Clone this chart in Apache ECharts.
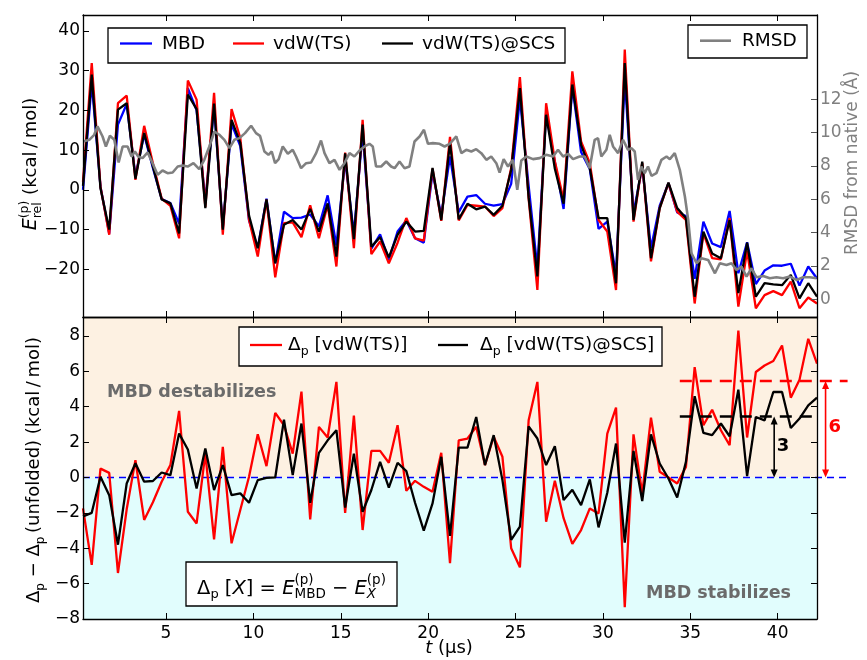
<!DOCTYPE html>
<html>
<head>
<meta charset="utf-8">
<script src="https://cdn.jsdelivr.net/npm/echarts@6/dist/echarts.min.js"></script>
<style>
  html, body { margin: 0; padding: 0; background: #fff; }
  #chart { width: 867px; height: 660px; }
</style>
</head>
<body>
<div id="chart"></div>
<script>
// ---- simulation snapshots: one every 0.5 µs ----
const time = Array.from({ length: 85 }, (_, i) => 0.25 + 0.5 * i);

// relative energies E_rel^(p) (kcal/mol)
const eMBD = [
  0, 27, 0.8, -11, 16.4, 21.6, 3.5, 13.9, 5.5, -2.3,
  -3.3, -8.5, 25.6, 20, -3, 21, -9.5, 16.6, 11, -7.7,
  -14.6, -2.2, -18.5, -5.5, -7.1, -7, -6.2, -9.2, -1.4, -14,
  7.5, -11.1, 14.6, -14.8, -11.2, -17.6, -10.5, -7.7, -12.2, -13.3,
  4.3, -6.4, 8.4, -5.6, -1.7, -1.3, -3.5, -4, -3.6, 1.5,
  23, 1, -19.7, 19.4, 7, -4.8, 26, 9.5, 5.2, -9.8,
  -8, -21.4, 28.1, -5.8, 5.8, -14.7, -4, 1.7, -5.7, -6.6,
  -22.4, -8, -13.5, -14.4, -5.3, -21, -13.2, -23.7, -20.3, -19,
  -19.1, -18.6, -24.1, -19.3, -22.3
];
const eTS = [
  2, 31.9, 0.8, -11.3, 21.8, 23.7, 2.5, 16.1, 6.7, -2.2,
  -4, -12.2, 27.5, 22.7, -4.3, 24.4, -11.3, 20.3, 13, -7.5,
  -16.8, -2.5, -22, -8.4, -8.2, -11.9, -3.9, -12.2, -3.8, -19.3,
  9.4, -14.7, 17.6, -16.2, -13, -18.5, -13.3, -7.1, -12.2, -12.8,
  5.3, -7.8, 13.3, -7.7, -3.8, -4, -4.2, -6.6, -4.6, 5.5,
  28.4, -2.2, -25.2, 21.8, 7.2, -2.5, 29.8, 12.2, 6.7, -7.6,
  -10.5, -25.2, 35.3, -8, 6.7, -18, -4.6, 1.7, -5.5, -7.6,
  -28.6, -10.9, -17.2, -17.5, -7.1, -29.4, -15.4, -29.8, -26.5, -25.5,
  -26.5, -23.1, -29.8, -27.1, -28.6
];
const eSCS = [
  1, 29, 0.4, -10, 20.2, 21.8, 2.8, 14.3, 5.9, -2.4,
  -3.4, -11, 24, 20.3, -4.6, 21.7, -10, 17.6, 11.8, -6.5,
  -14.7, -2.4, -18.5, -8.8, -7.6, -10, -4.8, -10.5, -3.4, -16.8,
  9.2, -12.4, 16.4, -14.3, -11.9, -17, -11.3, -8, -10.5, -10.3,
  5.5, -7.6, 11.8, -7.4, -3.5, -4.9, -4.2, -6.3, -4, 5,
  25.6, -1.9, -21.8, 18.9, 5.3, -3.5, 26.5, 11.3, 5.5, -7.1,
  -7.1, -23.5, 31.9, -7.6, 7.1, -17.2, -4.6, 1.8, -4.6, -7.1,
  -26.9, -10.5, -16, -17.2, -7.6, -26, -13.3, -26.9, -23.5, -23.8,
  -24, -21.4, -27.3, -23.5, -26.9
];

// RMSD from the native structure (Å), sampled more finely
const rmsdTime = [
  0.26, 0.61, 0.89, 1.08, 1.37, 1.56, 1.79, 2.04, 2.29, 2.52, 2.8, 3.03, 3.22, 3.41, 3.66, 3.95,
  4.23, 4.52, 4.8, 5.09, 5.38, 5.67, 5.95, 6.24, 6.57, 6.9, 7.19, 7.48, 7.77, 8.05, 8.34, 8.63,
  8.91, 9.2, 9.52, 9.87, 10.15, 10.38, 10.63, 10.86, 11.05, 11.24, 11.45, 11.68, 11.97, 12.25,
  12.44, 12.73, 13.02, 13.3, 13.59, 13.87, 14.07, 14.35, 14.64, 14.93, 15.21, 15.5, 15.78, 16.07,
  16.36, 16.64, 16.83, 17.02, 17.31, 17.6, 17.88, 18.08, 18.36, 18.65, 18.93, 19.22, 19.51, 19.76,
  19.99, 20.27, 20.65, 20.94, 21.23, 21.61, 21.9, 22.18, 22.47, 22.75, 23.04, 23.33, 23.61, 23.9,
  24.09, 24.32, 24.57, 24.85, 25.1, 25.33, 25.62, 26.0, 26.38, 26.76, 27.15, 27.43, 27.72, 28.01,
  28.29, 28.67, 28.96, 29.24, 29.53, 29.72, 29.91, 30.2, 30.39, 30.58, 30.87, 31.15, 31.44, 31.63,
  31.82, 32.01, 32.2, 32.39, 32.58, 32.78, 33.06, 33.35, 33.64, 33.83, 34.11, 34.4, 34.69, 34.88,
  35.07, 35.36, 35.64, 36.02, 36.41, 36.69, 37.07, 37.36, 37.64, 37.93, 38.22, 38.5, 38.79, 39.17,
  39.55, 39.93, 40.31, 40.7, 41.08, 41.46, 41.84, 42.22
];
const rmsdVal = [
  9.46, 9.56, 9.86, 10.36, 9.76, 9.16, 9.8, 9.56, 8.2, 9.16, 9.16, 8.56, 8.86, 8.56, 8.46, 8.8,
  8.16, 7.46, 7.72, 7.56, 7.6, 7.96, 8.02, 7.96, 8.16, 7.8, 8.36, 9.16, 10.06, 9.86, 9.56, 9.06,
  9.56, 9.66, 9.96, 10.4, 9.96, 9.8, 8.86, 8.66, 8.86, 8.16, 8.4, 9.16, 8.72, 8.96,
  8.56, 7.86, 8.16, 8.2, 8.76, 9.52, 8.76, 8.16, 8.36, 7.76, 8.16, 8.76, 8.56, 8.92,
  9.16, 9.32, 9.16, 7.96, 7.96, 8.26, 7.96, 7.86, 8.26, 7.86, 7.96, 9.46, 9.76, 10.16,
  9.32, 9.36, 9.32, 9.16, 9.32, 9.76, 8.76, 8.96, 8.86, 9.0, 8.76, 8.36, 8.56, 8.16,
  7.6, 8.4, 7.96, 8.36, 6.56, 8.32, 8.56, 8.4, 8.46, 8.66, 8.56, 8.96, 8.56, 8.72,
  8.4, 8.56, 8.56, 7.86, 9.56, 9.66, 8.56, 8.96, 9.86, 9.16, 8.76, 9.56, 8.96, 9.06,
  8.86, 7.16, 7.96, 7.56, 7.96, 7.4, 7.56, 8.36, 8.56, 8.4, 8.76, 7.76, 6.16, 4.76,
  2.76, 2.16, 2.46, 2.36, 1.56, 2.16, 2.06, 2.16, 1.76, 1.96, 1.36, 1.86, 1.32, 1.4,
  1.26, 1.32, 1.26, 1.36, 1.16, 1.32, 1.32, 1.26
];

// Δp − Δp(unfolded) (kcal/mol)
const dTS = [
  -1.75, -4.94, 0.5, 0.26, -5.4, -1.8, 0.98, -2.4, -1.4, -0.24,
  0.7, 3.76, -1.94, -2.6, 1.35, -3.5, 1.73, -3.72, -1.84, 0.04,
  2.44, 0.64, 3.65, 2.95, 1.35, 4.85, -2.37, 2.86, 2.26, 5.4,
  -2.0, 3.5, -2.97, 1.5, 1.5, 0.83, 2.95, -0.75, -0.19, -0.53,
  -0.81, 1.39, -4.85, 2.1, 2.2, 2.86, 0.7, 2.3, 1.17, -4.0,
  -5.08, 3.23, 5.4, -2.5, -0.19, -2.3, -3.75, -2.97, -1.75, -2.03,
  2.48, 3.95, -7.33, 2.44, -0.9, 3.38, 0.32, 0, -0.34, 0.6,
  6.24, 2.95, 3.83, 2.67, 1.82, 8.3, 2.26, 5.96, 6.33, 6.58,
  7.46, 4.51, 5.53, 7.84, 6.43
];
const dSCS = [
  -2.2, -2.0, 0.04, -1.0, -3.8, -0.34, 0.8, -0.24, -0.2, 0.28,
  0.13, 2.48, 1.58, -0.62, 1.64, -0.71, 0.7, -1.0, -0.9, -1.43,
  -0.15, -0.02, 0, 3.27, 0.13, 3.05, -1.43, 1.39, 2.1, 2.67,
  -1.7, 1.35, -1.94, -0.71, 0.88, -0.58, 0.83, 0.36, -1.43, -3.0,
  -1.47, 1.17, -3.3, 1.69, 1.69, 3.42, 0.7, 2.39, -0.15, -3.53,
  -2.78, 2.89, 2.2, 0.7, 1.77, -1.28, -0.7, -1.56, -0.11, -2.82,
  -0.86, 1.92, -3.68, 1.5, -1.33, 2.44, 0.79, -0.06, -1.13, 0.88,
  4.59, 2.52, 2.39, 3.05, 2.33, 4.96, 0.08, 3.42, 3.23, 4.83,
  4.83, 2.8, 3.33, 4.08, 4.51
];

// tick labels
const tTicks = [5, 10, 15, 20, 25, 30, 35, 40];
const eTicks = [-20, -10, 0, 10, 20, 30, 40];
const rmsdTicks = [0, 2, 4, 6, 8, 10, 12];
const dTicks = [-8, -6, -4, -2, 0, 2, 4, 6, 8];

// plateau levels reached after the protein unfolds (t > 35 µs)
const plateauTS = 5.45;
const plateauSCS = 3.45;

// ---- axis ranges ----
const T_MIN = 0.25, T_MAX = 42.25, T_OVERHANG = 44.0, T_PLATEAU = 34.4;
const E_MIN = -32, E_MAX = 44;
const R_MIN = -1.06, R_MAX = 17.04;
const D_MIN = -8, D_MAX = 9.07;

const FONT = 'DejaVu Sans';
const PEACH = '#fdf1e2';
const AQUA = '#e1fdfd';
const GRAY = '#808080';
const LABEL_GRAY = '#6b6b6b';
const LINE_W = 2.3;

const pairs = (xs, ys) => xs.map((x, i) => [x, ys[i]]);
const minus = v => String(v).replace('-', '\u2212');

// ---- text layout helpers (sub/superscripts laid out along a baseline) ----
const measureCtx = document.createElement('canvas').getContext('2d');
function textWidth(p) {
  measureCtx.font = `${p.it ? 'italic ' : ''}${p.b ? 'bold ' : ''}${p.s}px "${FONT}"`;
  return measureCtx.measureText(p.t).width;
}
function mathText(pieces, opt) {
  const kids = [];
  let cursor = 0;
  const put = (p, x) => {
    kids.push({
      type: 'text', x: x, y: (p.dy || 0) - 0.3 * p.s, z: 100, silent: true,
      style: {
        text: p.t, fontSize: p.s, fontFamily: FONT,
        fontStyle: p.it ? 'italic' : 'normal', fontWeight: p.b ? 'bold' : 'normal',
        fill: p.c || opt.color || '#000', align: 'left', verticalAlign: 'middle'
      }
    });
    return textWidth(p);
  };
  pieces.forEach(p => {
    if (p.stack) {
      let w = 0;
      p.stack.forEach(q => { w = Math.max(w, put(q, cursor)); });
      cursor += w;
    } else {
      cursor += put(p, cursor);
    }
  });
  if (opt.anchor === 'center') kids.forEach(k => { k.x -= cursor / 2; });
  return { type: 'group', x: opt.x, y: opt.y, rotation: opt.rotation || 0, z: 100, children: kids };
}
function box(x, y, w, h) {
  return { type: 'rect', z: 99, silent: true, shape: { x, y, width: w, height: h },
           style: { fill: '#fff', stroke: '#000', lineWidth: 1.3 } };
}
function swatch(x1, x2, y, color, width) {
  return { type: 'line', z: 100, silent: true, shape: { x1, y1: y, x2, y2: y },
           style: { stroke: color, lineWidth: width || LINE_W } };
}
function plainText(x, y, text, size, extra) {
  return { type: 'text', x, y, z: 100, silent: true,
           style: Object.assign({ text, fontSize: size, fontFamily: FONT, fill: '#000',
                                  align: 'left', verticalAlign: 'middle' }, extra || {}) };
}

// ---- axes ----
function xAxisDef(grid, pos, showLabels) {
  return {
    type: 'value', gridIndex: grid, position: pos, min: T_MIN, max: T_MAX, z: 10,
    axisLine: { show: true, onZero: false, lineStyle: { color: '#000', width: 1.3 } },
    axisTick: { show: true, inside: true, length: 6, customValues: tTicks, lineStyle: { color: '#000', width: 1 } },
    axisLabel: { show: showLabels, customValues: tTicks, fontSize: 17, fontFamily: FONT, color: '#000', margin: 6 },
    splitLine: { show: false }
  };
}
function yAxisDef(grid, pos, min, max, ticks, showLabels, labelColor, tickColor) {
  return {
    type: 'value', gridIndex: grid, position: pos, min, max, z: 10,
    axisLine: { show: true, onZero: false, lineStyle: { color: '#000', width: 1.3 } },
    axisTick: { show: true, inside: true, length: 6, customValues: ticks, lineStyle: { color: tickColor || '#000', width: 1 } },
    axisLabel: { show: showLabels, customValues: ticks, fontSize: 17, fontFamily: FONT,
                 color: labelColor || '#000', margin: 3, formatter: minus },
    splitLine: { show: false }
  };
}

// ---- double-headed vertical arrow ----
function arrowEls(p1, p2, color) {
  const hl = 8, hw = 3.5;
  const dir = Math.sign(p2[1] - p1[1]);
  return [
    { type: 'line', shape: { x1: p1[0], y1: p1[1] + dir * hl * 0.5, x2: p2[0], y2: p2[1] - dir * hl * 0.5 },
      style: { stroke: color, lineWidth: 1.6 } },
    { type: 'polygon', shape: { points: [[p1[0], p1[1]], [p1[0] - hw, p1[1] + dir * hl], [p1[0] + hw, p1[1] + dir * hl]] },
      style: { fill: color } },
    { type: 'polygon', shape: { points: [[p2[0], p2[1]], [p2[0] - hw, p2[1] - dir * hl], [p2[0] + hw, p2[1] - dir * hl]] },
      style: { fill: color } }
  ];
}

const chart = echarts.init(document.getElementById('chart'), null, { renderer: 'canvas' });

const option = {
  animation: false,
  backgroundColor: '#fff',
  textStyle: { fontFamily: FONT },
  grid: [
    { left: 83, top: 15, width: 734, height: 302, containLabel: false, outerBoundsMode: 'none' },
    { left: 83, top: 317, width: 734, height: 302, containLabel: false, outerBoundsMode: 'none' }
  ],
  xAxis: [
    xAxisDef(0, 'bottom', false),
    xAxisDef(0, 'top', false),
    xAxisDef(1, 'bottom', true),
    xAxisDef(1, 'top', false)
  ],
  yAxis: [
    yAxisDef(0, 'left', E_MIN, E_MAX, eTicks, true),
    yAxisDef(0, 'right', R_MIN, R_MAX, rmsdTicks, true, GRAY, '#555'),
    yAxisDef(1, 'left', D_MIN, D_MAX, dTicks, true),
    yAxisDef(1, 'right', D_MIN, D_MAX, dTicks, false)
  ],
  series: [
    { name: 'MBD', type: 'line', xAxisIndex: 0, yAxisIndex: 0, data: pairs(time, eMBD),
      symbol: 'none', z: 2, lineStyle: { color: '#0000ff', width: LINE_W }, itemStyle: { color: '#0000ff' } },
    { name: 'vdW(TS)', type: 'line', xAxisIndex: 0, yAxisIndex: 0, data: pairs(time, eTS),
      symbol: 'none', z: 2, lineStyle: { color: '#ff0000', width: LINE_W }, itemStyle: { color: '#ff0000' } },
    { name: 'vdW(TS)@SCS', type: 'line', xAxisIndex: 0, yAxisIndex: 0, data: pairs(time, eSCS),
      symbol: 'none', z: 2, lineStyle: { color: '#000', width: LINE_W }, itemStyle: { color: '#000' } },
    { name: 'RMSD', type: 'line', xAxisIndex: 0, yAxisIndex: 1, data: pairs(rmsdTime, rmsdVal),
      symbol: 'none', z: 2, lineStyle: { color: GRAY, width: 2.6 }, itemStyle: { color: GRAY } },

    // shaded halves of the lower panel and the zero reference line
    { type: 'custom', xAxisIndex: 2, yAxisIndex: 2, z: 1, silent: true, clip: false,
      data: [[T_MIN, 0]],
      renderItem: (params, api) => {
        const cs = params.coordSys;
        const y0 = api.coord([T_MIN, 0])[1];
        const xEnd = api.coord([T_OVERHANG, 0])[0];
        return { type: 'group', children: [
          { type: 'rect', shape: { x: cs.x, y: cs.y, width: cs.width, height: y0 - cs.y }, style: { fill: PEACH } },
          { type: 'rect', shape: { x: cs.x, y: y0, width: cs.width, height: cs.y + cs.height - y0 }, style: { fill: AQUA } },
          { type: 'line', shape: { x1: cs.x, y1: y0, x2: xEnd, y2: y0 },
            style: { stroke: '#0000ff', lineWidth: 1.5, lineDash: [7, 5] } }
        ] };
      } },

    { name: 'dTS', type: 'line', xAxisIndex: 2, yAxisIndex: 2, data: pairs(time, dTS),
      symbol: 'none', z: 2, lineStyle: { color: '#ff0000', width: LINE_W } },
    { name: 'dSCS', type: 'line', xAxisIndex: 2, yAxisIndex: 2, data: pairs(time, dSCS),
      symbol: 'none', z: 2, lineStyle: { color: '#000', width: LINE_W } },

    // plateau levels with their size markers
    { type: 'custom', xAxisIndex: 2, yAxisIndex: 2, z: 3, silent: true, clip: false,
      data: [[T_PLATEAU, 0]],
      renderItem: (params, api) => {
        const redA = api.coord([T_PLATEAU, plateauTS]);
        const redB = api.coord([T_OVERHANG, plateauTS]);
        const blkA = api.coord([T_PLATEAU, plateauSCS]);
        const blkB = api.coord([T_MAX, plateauSCS]);
        const arrowBlackX = 39.8, arrowRedX = 42.74;
        const labelBlack = api.coord([40.3, 1.77]);
        const labelRed = api.coord([43.27, 2.84]);
        return { type: 'group', children: [
          { type: 'line', shape: { x1: redA[0], y1: redA[1], x2: redB[0], y2: redB[1] },
            style: { stroke: '#ff0000', lineWidth: 2.5, lineDash: [12, 8] } },
          { type: 'line', shape: { x1: blkA[0], y1: blkA[1], x2: blkB[0], y2: blkB[1] },
            style: { stroke: '#000', lineWidth: 2.5, lineDash: [12, 8] } },
          ...arrowEls(api.coord([arrowBlackX, plateauSCS]), api.coord([arrowBlackX, 0]), '#000'),
          ...arrowEls(api.coord([arrowRedX, plateauTS]), api.coord([arrowRedX, 0]), '#ff0000'),
          { type: 'text', x: labelBlack[0], y: labelBlack[1],
            style: { text: '3', fontSize: 18, fontWeight: 'bold', fontFamily: FONT, fill: '#000', align: 'center', verticalAlign: 'middle' } },
          { type: 'text', x: labelRed[0], y: labelRed[1],
            style: { text: '6', fontSize: 18, fontWeight: 'bold', fontFamily: FONT, fill: '#ff0000', align: 'center', verticalAlign: 'middle' } }
        ] };
      } }
  ],
  graphic: [
    // upper legend
    box(108, 28, 457, 35),
    swatch(120, 152, 43.5, '#0000ff'), plainText(162, 44.5, 'MBD', 18.5),
    swatch(233, 264, 43.5, '#ff0000'), plainText(273, 44.5, 'vdW(TS)', 18.5),
    swatch(382, 413, 43.5, '#000'), plainText(422, 44.5, 'vdW(TS)@SCS', 18.5),
    // RMSD legend
    box(688, 25, 119, 33),
    swatch(700, 731, 40.7, GRAY, 2.6), plainText(742, 41.5, 'RMSD', 18.5),
    // lower legend
    box(239, 327, 423, 39),
    swatch(250, 282, 345, '#ff0000'),
    mathText([{ t: '\u0394', s: 18.5 }, { t: 'p', s: 12.5, dy: 4 }, { t: ' [vdW(TS)]', s: 18.5 }], { x: 288, y: 351 }),
    swatch(438, 468, 345, '#000'),
    mathText([{ t: '\u0394', s: 18.5 }, { t: 'p', s: 12.5, dy: 4 }, { t: ' [vdW(TS)@SCS]', s: 18.5 }], { x: 480, y: 351 }),
    // definition box
    box(186, 562, 211, 44),
    mathText([
      { t: '\u0394', s: 19.5 }, { t: 'p', s: 13, dy: 4 }, { t: ' [', s: 19.5 }, { t: 'X', s: 19.5, it: true },
      { t: '] = ', s: 19.5 }, { t: 'E', s: 19.5, it: true },
      { stack: [{ t: '(p)', s: 13.5, dy: -10 }, { t: 'MBD', s: 13.5, dy: 4 }] },
      { t: ' \u2212 ', s: 19.5 }, { t: 'E', s: 19.5, it: true },
      { stack: [{ t: '(p)', s: 13.5, dy: -10 }, { t: 'X', s: 13.5, it: true, dy: 4 }] }
    ], { x: 291.5, y: 595, anchor: 'center' }),
    // region notes
    plainText(107, 392, 'MBD destabilizes', 17.5, { fontWeight: 'bold', fill: LABEL_GRAY }),
    plainText(646, 593, 'MBD stabilizes', 17.5, { fontWeight: 'bold', fill: LABEL_GRAY }),
    // axis titles
    mathText([
      { t: 'E', s: 19, it: true },
      { stack: [{ t: '(p)', s: 12.5, dy: -9 }, { t: 'rel', s: 12.5, dy: 4 }] },
      { t: ' (kcal\u2009/\u2009mol)', s: 18 }
    ], { x: 37, y: 164, rotation: Math.PI / 2, anchor: 'center' }),
    mathText([
      { t: '\u0394', s: 18 }, { t: 'p', s: 12, dy: 4 }, { t: ' \u2212 ', s: 18 },
      { t: '\u0394', s: 18 }, { t: 'p', s: 12, dy: 4 }, { t: '\u2009(unfolded)', s: 18 },
      { t: ' (kcal\u2009/\u2009mol)', s: 18 }
    ], { x: 40, y: 470, rotation: Math.PI / 2, anchor: 'center' }),
    mathText([{ t: 'RMSD from native (\u00c5)', s: 17 }],
      { x: 858, y: 163, rotation: Math.PI / 2, anchor: 'center', color: GRAY }),
    mathText([{ t: 't', s: 18, it: true }, { t: ' (\u03bcs)', s: 18 }],
      { x: 449, y: 654, anchor: 'center' })
  ]
};

chart.setOption(option);
</script>
</body>
</html>
